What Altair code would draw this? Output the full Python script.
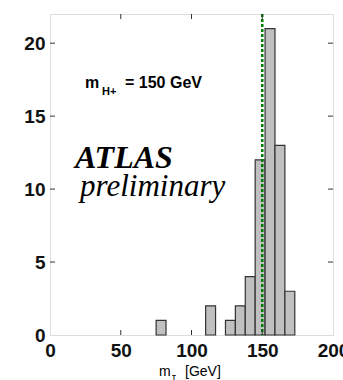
import altair as alt
import pandas as pd

# histogram data (bin edges in GeV, counts)
bin_start = [75, 110, 124, 131, 138, 145, 152, 159, 166]
bin_end = [82, 117, 131, 138, 145, 152, 159, 166, 173]
counts = [1, 2, 1, 2, 4, 12, 21, 13, 3]

x_ticks = [0, 50, 100, 150, 200]
y_ticks = [0, 5, 10, 15, 20]
inner_x_ticks = [50, 100, 150]
inner_y_ticks = [5, 10, 15, 20]
true_mass = 150

W, H = 283, 321

bars_df = pd.DataFrame({"start": bin_start, "end": bin_end, "count": counts})
xt_df = pd.DataFrame({"v": inner_x_ticks})
yt_df = pd.DataFrame({"v": inner_y_ticks})

xscale = alt.Scale(domain=[0, 200], nice=False, zero=False)
yscale = alt.Scale(domain=[0, 22], nice=False)

xaxis = alt.Axis(values=x_ticks, title=None, grid=False, domain=False, tickSize=0,
                 labelFontSize=19, labelFont="Liberation Sans", labelFontWeight="bold",
                 labelColor="#111", labelPadding=6, labelFlush=False, labelOverlap=False)
yaxis = alt.Axis(values=y_ticks, title=None, grid=False, domain=False, tickSize=0,
                 labelFontSize=19, labelFont="Liberation Sans", labelFontWeight="bold",
                 labelColor="#111", labelPadding=5, labelFlush=False, labelOverlap=False)

bars = alt.Chart(bars_df).mark_bar(fill="#c0c0c0", stroke="#333333", strokeWidth=1.2).encode(
    x=alt.X("start:Q", scale=xscale, axis=xaxis),
    x2="end:Q",
    y=alt.Y("count:Q", scale=yscale, axis=yaxis),
    y2=alt.datum(0),
)

line = alt.Chart(pd.DataFrame({"m": [true_mass]})).mark_rule(
    color="#008000", strokeWidth=2.5, strokeDash=[3, 2]
).encode(x=alt.X("m:Q", scale=xscale), y=alt.value(0), y2=alt.value(H))

tick_style = dict(color="#333333", strokeWidth=1)
tb = alt.Chart(xt_df).mark_rule(**tick_style).encode(
    x=alt.X("v:Q", scale=xscale), y=alt.value(H), y2=alt.value(H - 5))
tt = alt.Chart(xt_df).mark_rule(**tick_style).encode(
    x=alt.X("v:Q", scale=xscale), y=alt.value(0), y2=alt.value(5))
tl = alt.Chart(yt_df).mark_rule(**tick_style).encode(
    y=alt.Y("v:Q", scale=yscale), x=alt.value(0), x2=alt.value(5))
tr = alt.Chart(yt_df).mark_rule(**tick_style).encode(
    y=alt.Y("v:Q", scale=yscale), x=alt.value(W), x2=alt.value(W - 5))

def txt(s, x, y, size, font="Liberation Sans", weight="normal", style="normal"):
    return alt.Chart(pd.DataFrame({"t": [s]})).mark_text(
        align="left", baseline="alphabetic", fontSize=size, font=font,
        fontWeight=weight, fontStyle=style, color="#000"
    ).encode(text="t:N", x=alt.value(x), y=alt.value(y))

texts = [
    txt("m", 35, 74, 16, weight="bold"),
    txt("H+", 52, 81, 11, weight="bold"),
    txt("= 150 GeV", 75, 74, 16, weight="bold"),
    txt("ATLAS", 25, 154, 32, font="Liberation Serif", weight="bold", style="italic"),
    txt("preliminary", 30, 182, 31, font="Liberation Serif", style="italic"),
    txt("m", 109, 362, 14),
    txt("τ", 122, 367, 10),
    txt("[GeV]", 135, 362, 14),
]

chart = alt.layer(bars, line, tb, tt, tl, tr, *texts).properties(
    width=W, height=H,
    padding={"left": 50, "top": 14, "right": 10, "bottom": 45},
    autosize=alt.AutoSizeParams(type="none"),
).configure_view(stroke="#333333", strokeWidth=1.2).configure(background="white")

chart.save("out.html", embed_options={"renderer": "svg", "actions": False})
